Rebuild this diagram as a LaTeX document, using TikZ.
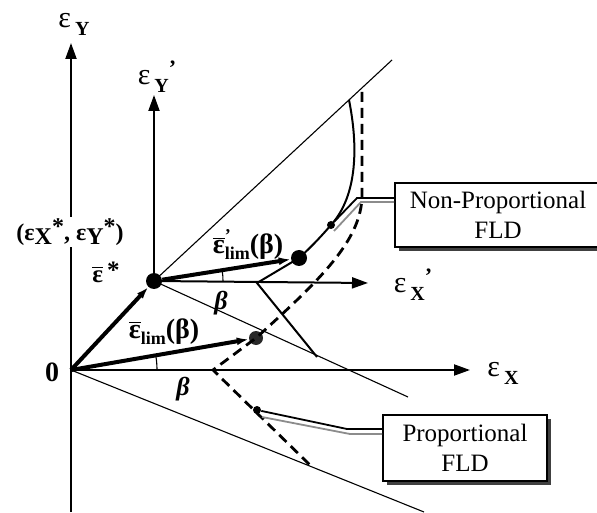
\documentclass[tikz,border=0pt]{standalone}
\usepackage{fontspec}
\setmainfont{Liberation Serif}
\usetikzlibrary{arrows.meta,shadows,calc,positioning}
\definecolor{xLeadGray}{RGB}{140,140,140}
\definecolor{xDotGray}{RGB}{40,40,40}

% strain axis label: epsilon with a bold index
\newcommand{\epsax}[2]{{\fontsize{15}{15}\selectfont ε}\kern2pt\raisebox{-4pt}{\fontsize{10}{10}\selectfont\bfseries #1}#2}
\newcommand{\axprime}{\raisebox{4.5pt}{\fontsize{11}{11}\selectfont\bfseries ’}}
\newcommand{\epsbar}{$\overline{\mbox{\bfseries ε}}$}

\begin{document}
\begin{tikzpicture}[x=0.5pt,y=-0.5pt,
    axis/.style={line width=1pt,-{Triangle[length=8pt,width=5.5pt]}},
    vecarrow/.style={line width=2pt,-{Latex[length=6pt,width=4pt]}},
    thinline/.style={line width=0.55pt},
    bigdot/.style={circle,fill=black,inner sep=0pt,minimum size=8pt},
    pointdot/.style={circle,fill=xDotGray,inner sep=0pt,minimum size=7pt},
    smalldot/.style={circle,fill=black,inner sep=0pt,minimum size=4pt},
    fldbox/.style={draw,line width=0.8pt,fill=white,align=center,
      font=\fontsize{12.5}{15}\selectfont,
      drop shadow={shadow xshift=2pt,shadow yshift=-2pt,fill=black!75,opacity=1}},
    propfld/.style={line width=1.4pt,dash pattern=on 5pt off 3pt},
    nonpropfld/.style={line width=1pt}]
  \useasboundingbox (0,0) rectangle (597,512);

  % origins and limit strain points
  \coordinate (O) at (71,370);
  \node[bigdot] (S) at (154,281) {};
  \node[pointdot] (P) at (256,338) {};
  \node[bigdot] (Q) at (299,258) {};
  \node[smalldot] (np) at (331,225) {};
  \node[smalldot] (pp) at (257,410) {};

  % main axes
  \coordinate (ybot) at (71,512);
  \coordinate (ytip) at (71,43);
  \coordinate (xtip) at (470,370);
  \draw[axis] (ybot) -- (ytip);
  \draw[axis] (O) -- (xtip);
  % shifted axes
  \coordinate (y2tip) at (154,95);
  \coordinate (x2tip) at (368,283);
  \draw[axis] (S.center) -- (y2tip);
  \draw[axis] (S.center) -- (x2tip);

  % thin guide lines
  \coordinate (g1) at (392,60);
  \coordinate (g2) at (408,397);
  \coordinate (g3) at (424,512);
  \draw[thinline] (S.center) -- (g1);
  \draw[thinline] (S.center) -- (g2);
  \draw[thinline] (O) -- (g3);

  % proportional FLD (dashed)
  \coordinate (d1) at (362,92);
  \coordinate (d2) at (362,195);
  \coordinate (dv) at (213,370);
  \coordinate (d3) at (310,465);
  \draw[propfld] (d1) -- (d2) .. controls (362,240) and (320,280) .. (P.center)
    -- (dv) -- (d3);

  % non-proportional FLD (solid)
  \coordinate (s1) at (349,100);
  \coordinate (sv) at (257,283);
  \coordinate (s3) at (317,357);
  \draw[nonpropfld] (s1) .. controls (358,145) and (358,195) .. (np.center)
    .. controls (318,240) and (308,250) .. (Q.center) -- (sv) -- (s3);

  % strain vectors
  \draw[vecarrow] (O) -- (S);
  \draw[vecarrow] (O) -- (P);
  \draw[vecarrow] (S) -- (Q);

  % angle marks
  \draw[thinline] (157,370) arc[start angle=0,end angle=-9.5,radius=86];
  \draw[thinline] (223,281) arc[start angle=0,end angle=-9,radius=69];

  % label boxes with leaders
  \node[fldbox,minimum width=103pt,minimum height=32pt] (nonprop) at (498,215) {Non-Proportional\\FLD};
  \node[fldbox,minimum width=82pt,minimum height=33pt] (prop) at (465,448) {Proportional\\FLD};
  \coordinate (nk) at (357,198);
  \coordinate (nkg) at (361,202);
  \coordinate (ndg) at (334,231);
  \draw[line width=0.9pt,xLeadGray] (nonprop.west |- nkg) -- (nkg) -- (ndg);
  \draw[line width=0.9pt] (nonprop.west |- nk) -- (nk) -- (np);
  \coordinate (pk) at (347,429);
  \coordinate (pkg) at (350,434);
  \coordinate (pdg) at (262,417);
  \draw[line width=0.9pt,xLeadGray] (prop.west |- pkg) -- (pkg) -- (pdg);
  \draw[line width=0.9pt] (prop.west |- pk) -- (pk) -- (pp);

  % axis labels
  \node (lab ey) at (74,24) {\epsax{Y}{}};
  \node (lab ey2) at (157,77) {\epsax{Y}{\axprime}};
  \node (lab ex2) at (413,285) {\epsax{X}{\axprime}};
  \node (lab ex) at (503,373) {\epsax{X}{}};
  \node[fill=white,inner sep=1pt,font=\fontsize{12}{12}\selectfont\bfseries] (lab star) at (70,232)
    {(ε\raisebox{-2pt}{X}\raisebox{3pt}{*}, ε\raisebox{-2pt}{Y}\raisebox{3pt}{*})};
  \node[font=\fontsize{14}{14}\selectfont\bfseries] (lab zero) at (52,372) {0};
  \node[font=\fontsize{12.5}{12.5}\selectfont\bfseries] (lab es) at (106,272) {\epsbar\,\raisebox{2pt}{*}};
  \node[font=\fontsize{14}{14}\selectfont\bfseries] (lab lim) at (164,332)
    {\epsbar\raisebox{-3pt}{\fontsize{9}{9}\selectfont lim}(β)};
  \node[font=\fontsize{14}{14}\selectfont\bfseries] (lab lim2) at (248,245)
    {\epsbar\rlap{\raisebox{6pt}{\fontsize{9}{9}\selectfont’}}\raisebox{-3pt}{\fontsize{9}{9}\selectfont lim}(β)};
  \node[font=\fontsize{13}{13}\selectfont\bfseries\itshape] (lab b1) at (221,303) {β};
  \node[font=\fontsize{13}{13}\selectfont\bfseries\itshape] (lab b2) at (183,389) {β};
\end{tikzpicture}
\end{document}
